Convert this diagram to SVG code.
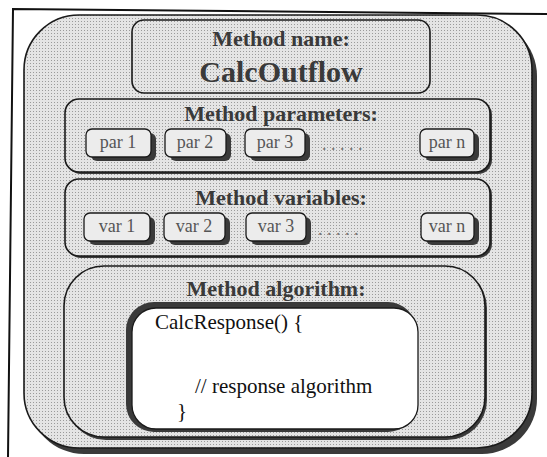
<svg xmlns="http://www.w3.org/2000/svg" width="547" height="457" viewBox="0 0 547 457">
  <defs>
    <pattern id="dots" width="3" height="3" patternUnits="userSpaceOnUse">
      <rect width="3" height="3" fill="#e4e4e4"/>
      <rect x="0" y="0" width="1" height="1" fill="#9a9a9a"/>
    </pattern>
    <style>
      .frame { fill: none; stroke: #111; stroke-width: 2; }
      .panel { fill: url(#dots); stroke: #1a1a1a; stroke-width: 1.6; }
      .shadow { fill: #3a3a3a; }
      .chip { fill: #ececec; stroke: #1a1a1a; stroke-width: 1.3; }
      .head { font-family: "Liberation Serif", "Times New Roman", serif; font-weight: bold; font-size: 22px; fill: #3a3a3a; text-anchor: middle; }
      .big { font-family: "Liberation Serif", "Times New Roman", serif; font-weight: bold; font-size: 30px; fill: #3a3a3a; text-anchor: middle; }
      .lbl { font-family: "Liberation Serif", "Times New Roman", serif; font-size: 18px; fill: #555; text-anchor: middle; }
      .dots { font-family: "Liberation Serif", "Times New Roman", serif; font-size: 18px; fill: #777; }
      .code { font-family: "Liberation Serif", "Times New Roman", serif; font-size: 21px; fill: #111; }
    </style>
  </defs>

  <rect width="547" height="457" fill="#ffffff"/>
  <polyline class="frame" points="8,457 13,9 547,14"/>

  <g id="method">
    <rect class="shadow" x="29" y="21" width="508" height="433" rx="55"/>
    <rect class="panel" x="24" y="15" width="508" height="433" rx="55"/>
  </g>

  <g id="method-name">
    <rect class="panel" x="132" y="20" width="298" height="73" rx="12"/>
    <text class="head" x="281" y="46">Method name:</text>
    <text class="big" x="281" y="82">CalcOutflow</text>
  </g>

  <g id="method-parameters">
    <rect class="shadow" x="67" y="101" width="425" height="73" rx="14"/>
    <rect class="panel" x="65" y="99" width="425" height="73" rx="14"/>
    <text class="head" x="281" y="121">Method parameters:</text>
    <g id="par1">
      <rect class="shadow" x="91" y="133" width="65" height="28" rx="6"/>
      <rect class="chip" x="86" y="129" width="65" height="28" rx="6"/>
      <text class="lbl" x="118" y="148">par 1</text>
    </g>
    <g id="par2">
      <rect class="shadow" x="170" y="133" width="61" height="28" rx="6"/>
      <rect class="chip" x="165" y="129" width="61" height="28" rx="6"/>
      <text class="lbl" x="195" y="148">par 2</text>
    </g>
    <g id="par3">
      <rect class="shadow" x="250" y="133" width="60" height="28" rx="6"/>
      <rect class="chip" x="245" y="129" width="60" height="28" rx="6"/>
      <text class="lbl" x="275" y="148">par 3</text>
    </g>
    <text class="dots" x="322" y="150">. . . . .</text>
    <g id="parn">
      <rect class="shadow" x="425" y="133" width="54" height="28" rx="6"/>
      <rect class="chip" x="420" y="129" width="54" height="28" rx="6"/>
      <text class="lbl" x="447" y="148">par n</text>
    </g>
  </g>

  <g id="method-variables">
    <rect class="shadow" x="67" y="181" width="425" height="77" rx="14"/>
    <rect class="panel" x="65" y="179" width="425" height="77" rx="14"/>
    <text class="head" x="281" y="205">Method variables:</text>
    <g id="var1">
      <rect class="shadow" x="89" y="217" width="66" height="28" rx="6"/>
      <rect class="chip" x="84" y="213" width="66" height="28" rx="6"/>
      <text class="lbl" x="117" y="232">var 1</text>
    </g>
    <g id="var2">
      <rect class="shadow" x="169" y="217" width="61" height="28" rx="6"/>
      <rect class="chip" x="164" y="213" width="61" height="28" rx="6"/>
      <text class="lbl" x="194" y="232">var 2</text>
    </g>
    <g id="var3">
      <rect class="shadow" x="251" y="217" width="60" height="28" rx="6"/>
      <rect class="chip" x="246" y="213" width="60" height="28" rx="6"/>
      <text class="lbl" x="276" y="232">var 3</text>
    </g>
    <text class="dots" x="318" y="235">. . . . .</text>
    <g id="varn">
      <rect class="shadow" x="426" y="217" width="53" height="28" rx="6"/>
      <rect class="chip" x="421" y="213" width="53" height="28" rx="6"/>
      <text class="lbl" x="447" y="232">var n</text>
    </g>
  </g>

  <g id="method-algorithm">
    <rect class="shadow" x="66" y="268" width="421" height="172" rx="40"/>
    <rect class="panel" x="64" y="266" width="421" height="171" rx="40"/>
    <text class="head" x="276" y="296">Method algorithm:</text>
    <g id="code">
      <rect class="shadow" x="126" y="302" width="290" height="130" rx="28"/>
      <rect x="132" y="308" width="286" height="121" rx="24" fill="#ffffff" stroke="#1a1a1a" stroke-width="1.3"/>
      <text class="code" x="155" y="329">CalcResponse() {</text>
      <text class="code" x="195" y="393">// response algorithm</text>
      <text class="code" x="177" y="418">}</text>
    </g>
  </g>

  <g id="connectors"/>
</svg>
